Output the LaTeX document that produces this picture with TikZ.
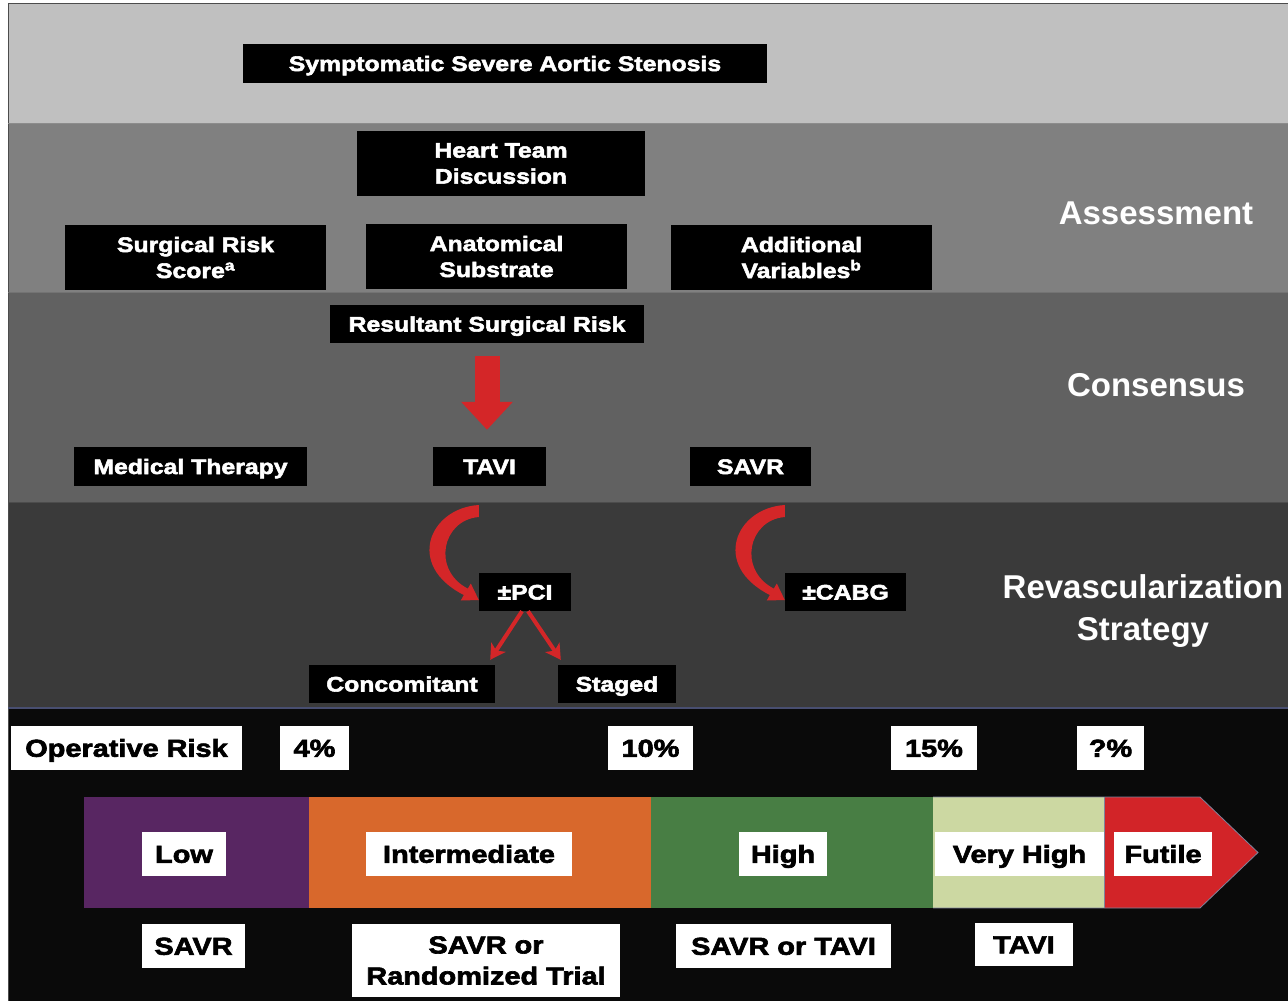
\documentclass[tikz,border=0pt]{standalone}
\usepackage{fontspec}
\setmainfont{Liberation Sans}
\newfontfamily\boxfont{Liberation Sans}[FakeStretch=1.18,FakeBold=2.6]
\newfontfamily\headfont{Liberation Sans}
\usetikzlibrary{arrows.meta,calc}
\definecolor{bandA}{RGB}{192,192,192}
\definecolor{bandB}{RGB}{128,128,128}
\definecolor{bandC}{RGB}{97,97,97}
\definecolor{bandD}{RGB}{58,58,58}
\definecolor{bandE}{RGB}{10,10,10}
\definecolor{arrred}{RGB}{212,38,40}
\definecolor{cpurple}{RGB}{88,38,98}
\definecolor{corange}{RGB}{216,104,44}
\definecolor{cgreen}{RGB}{72,126,68}
\definecolor{clgreen}{RGB}{204,216,162}
\definecolor{cred}{RGB}{210,36,40}
\definecolor{edgeblue}{RGB}{72,78,112}
\tikzset{
  bk/.style={fill=black, text=white, inner sep=0pt, align=center,
    font=\boxfont\bfseries\fontsize{21}{26}\selectfont},
  bkone/.style={bk, text height=17pt, text depth=2pt},
  wt/.style={fill=white, text=black, inner sep=0pt, align=center,
    font=\boxfont\bfseries\fontsize{24.5}{31}\selectfont},
  wtone/.style={wt, text height=19.5pt, text depth=2pt},
  hd/.style={text=white, inner sep=0pt, align=center,
    font=\headfont\bfseries\fontsize{33}{42}\selectfont},
  smallarr/.style={draw=arrred, line width=4pt, -{Stealth[length=15pt,width=17pt,inset=4pt]}},
  curvarr/.pic={\fill[arrred] (0,-95) .. controls (-49,-92) and (-74,-35) .. (-15,-5)
      -- (-18,0.5) -- (0,0) -- (-8,-16.5) -- (-11,-11.4)
      .. controls (-47,-30) and (-37,-80) .. (0,-83) -- cycle;}
}
\begin{document}
\begin{tikzpicture}[x=1pt,y=-1pt]
\useasboundingbox (0,0) rectangle (1288,1001);
\fill[white] (0,0) rectangle (1288,1001);
% bands
\fill[bandA] (8,3) rectangle (1288,123);
\fill[bandB] (8,123) rectangle (1288,292);
\fill[bandC] (8,292) rectangle (1288,502);
\fill[bandD] (8,502) rectangle (1288,708);
\fill[bandE] (8,708) rectangle (1288,1001);
\draw[black!70, line width=1pt] (8,1001) -- (8,3) -- (1288,3);
\draw[black!45, line width=1pt] (8,123) -- (1288,123);
\draw[black!55, line width=1pt] (8,292) -- (1288,292);
\draw[black!70, line width=1pt] (8,502) -- (1288,502);
\draw[edgeblue, line width=2pt] (8,708) -- (1288,708);

% headings
\node[hd] (assess) at (1156,213) {Assessment};
\node[hd] (consens) at (1156,385) {Consensus};
\node[hd] (revasc) at (1143,611) {Revascularization\\Strategy};

% black boxes
\node[bkone, minimum width=524pt, minimum height=39pt] (sas) at (505,63.5) {Symptomatic Severe Aortic Stenosis};
\node[bk, minimum width=288pt, minimum height=65pt] (htd) at (501,163.5) {Heart Team\\Discussion};
\node[bk, minimum width=261pt, minimum height=65pt] (srs) at (195.5,257.5) {Surgical Risk\\Score\textsuperscript{a}};
\node[bk, minimum width=261pt, minimum height=65pt] (ana) at (496.5,256.5) {Anatomical\\Substrate};
\node[bk, minimum width=261pt, minimum height=65pt] (addv) at (801.5,257.5) {Additional\\Variables\textsuperscript{b}};
\node[bkone, minimum width=314pt, minimum height=38pt] (res) at (487,324) {Resultant Surgical Risk};
\node[bkone, minimum width=233pt, minimum height=39pt] (med) at (190.5,466.5) {Medical Therapy};
\node[bkone, minimum width=113pt, minimum height=39pt] (tavi) at (489.5,466.5) {TAVI};
\node[bkone, minimum width=121pt, minimum height=39pt] (savr) at (750.5,466.5) {SAVR};
\node[bkone, minimum width=92pt, minimum height=38pt] (pci) at (525,592) {±PCI};
\node[bkone, minimum width=121pt, minimum height=38pt] (cabg) at (845.5,592) {±CABG};
\node[bkone, minimum width=186pt, minimum height=38pt] (conc) at (402,684) {Concomitant};
\node[bkone, minimum width=118pt, minimum height=38pt] (staged) at (617,684) {Staged};

% arrows
\draw[arrred, line width=25pt, -{Triangle[width=50pt,length=28pt]}]
  ($(res.south)+(0,13)$) -- ($(res.south |- tavi.north)+(0,-17)$);
\pic at ($(pci.west)+(0,8)$) {curvarr};
\pic at ($(cabg.west)+(0,8)$) {curvarr};
\draw[smallarr] ([xshift=-3pt]pci.south) -- ($(conc.north east)+(-5,-5)$);
\draw[smallarr] ([xshift=3pt]pci.south) -- ($(staged.north west)+(3,-5)$);

% risk bar
\fill[cpurple] (84,797) rectangle (309,908);
\fill[corange] (309,797) rectangle (651,908);
\fill[cgreen] (651,797) rectangle (933,908);
\fill[clgreen] (933,797) rectangle (1104,908);
\fill[cred] (1104,797) -- (1200,797) -- (1258,852.5) -- (1200,908) -- (1104,908) -- cycle;
\draw[edgeblue!70!white, line width=0.8pt] (933,797) -- (1200,797) -- (1258,852.5) -- (1200,908) -- (933,908);
\draw[edgeblue!70!white, line width=0.8pt] (1104,797) -- (1104,908);

% white labels
\node[wtone, minimum width=231pt, minimum height=44pt] (oprisk) at (126.5,748) {Operative Risk};
\node[wtone, minimum width=69pt, minimum height=44pt] (p4) at (314.5,748) {4\%};
\node[wtone, minimum width=85pt, minimum height=44pt] (p10) at (650.5,748) {10\%};
\node[wtone, minimum width=86pt, minimum height=44pt] (p15) at (934,748) {15\%};
\node[wtone, minimum width=67pt, minimum height=44pt] (pq) at (1110.5,748) {?\%};
\node[wtone, minimum width=84pt, minimum height=44pt] (low) at (184,854) {Low};
\node[wtone, minimum width=206pt, minimum height=44pt] (inter) at (469,854) {Intermediate};
\node[wtone, minimum width=88pt, minimum height=44pt] (high) at (783,854) {High};
\node[wtone, minimum width=169pt, minimum height=44pt] (vhigh) at (1019.5,854) {Very High};
\node[wtone, minimum width=98pt, minimum height=44pt] (futile) at (1163,854) {Futile};
\node[wtone, minimum width=103pt, minimum height=44pt] (rsavr) at (193.5,946) {SAVR};
\node[wt, minimum width=268pt, minimum height=73pt] (rtrial) at (486,960.5) {SAVR or\\Randomized Trial};
\node[wtone, minimum width=215pt, minimum height=44pt] (rboth) at (783.5,946) {SAVR or TAVI};
\node[wtone, minimum width=98pt, minimum height=43pt] (rtavi) at (1024,944.5) {TAVI};
\end{tikzpicture}
\end{document}
